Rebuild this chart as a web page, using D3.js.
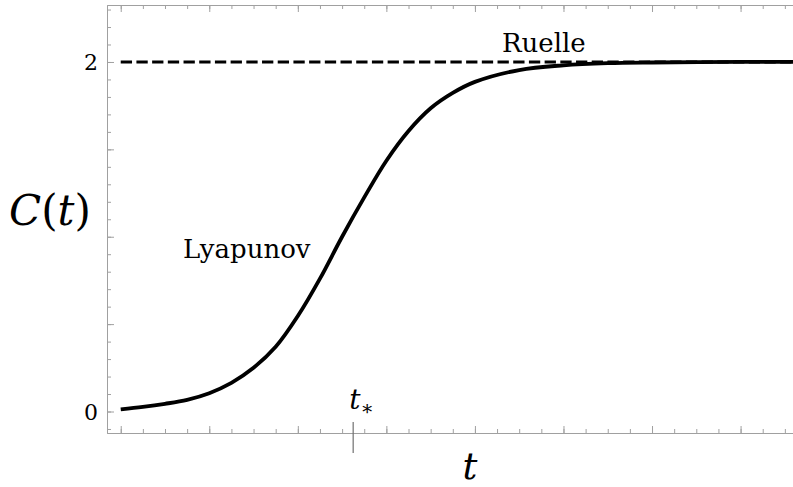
<!DOCTYPE html>
<html>
<head>
<meta charset="utf-8">
<script src="https://cdn.jsdelivr.net/npm/d3@7"></script>
<style>
  body { margin: 0; background: #fff; }
  svg { display: block; }
  .frame path, .frame line { stroke: #a0a0a0; stroke-width: 1; }
</style>
</head>
<body>
<div class="chart"></div>
<script>
// chart size
var svgWidth = 793;
var svgHeight = 487;
var serif = "DejaVu Serif";

// curve: t and C(t)
var tValues = [0, 0.25, 0.5, 0.75, 1.0, 1.25, 1.5, 1.75, 2.0, 2.25, 2.5, 2.75, 3.0, 3.25, 3.5, 3.75, 4.0, 4.5, 5.0, 5.5, 6.0, 7.0, 7.6];
var cValues = [0.012, 0.026, 0.044, 0.067, 0.105, 0.164, 0.25, 0.37, 0.546, 0.76, 1.0, 1.225, 1.435, 1.605, 1.735, 1.823, 1.886, 1.954, 1.981, 1.993, 1.997, 2.0, 2.0];

// Ruelle plateau and t_* marker
var ruelleLevel = 2;
var ruelleStart = 0;
var tStar = 2.625;

// ticks
var xMajorTicks = [0, 1, 2, 3, 4, 5, 6, 7];
var xMinorTicks = d3.range(0, 7.6, 0.25);
var yMajorTicks = [0, 0.5, 1, 1.5, 2];
var yMinorTicks = d3.range(-0.1, 2.35, 0.1);
var yTickLabels = [0, 2];

var svg = d3.select(".chart")
  .append("svg")
  .attr("width", svgWidth)
  .attr("height", svgHeight);

var xScale = d3.scaleLinear().domain([-0.155, 7.6]).range([107, 793.7]);
var yScale = d3.scaleLinear().domain([-0.123, 2.326]).range([433, 5]);

var x0 = xScale.range()[0], x1 = xScale.range()[1];
var yBottom = yScale.range()[0], yTop = yScale.range()[1];

// frame with inward ticks
function addAxis(axis, tx, ty) {
  var g = svg.append("g")
    .attr("class", "frame")
    .attr("transform", "translate(" + tx + "," + ty + ")")
    .call(axis);
  g.selectAll("text").remove();
  return g;
}

addAxis(d3.axisBottom(xScale).tickValues(xMinorTicks).tickSize(-4).tickSizeOuter(0), 0, yBottom);
addAxis(d3.axisBottom(xScale).tickValues(xMajorTicks).tickSize(-7).tickSizeOuter(0), 0, yBottom);
addAxis(d3.axisTop(xScale).tickValues(xMinorTicks).tickSize(-4).tickSizeOuter(0), 0, yTop);
addAxis(d3.axisTop(xScale).tickValues(xMajorTicks).tickSize(-7).tickSizeOuter(0), 0, yTop);
addAxis(d3.axisLeft(yScale).tickValues(yMinorTicks).tickSize(-4).tickSizeOuter(0), x0, 0);
addAxis(d3.axisLeft(yScale).tickValues(yMajorTicks).tickSize(-7).tickSizeOuter(0), x0, 0);

// y labels 0 and 2
svg.append("g")
  .attr("transform", "translate(" + x0 + ",0)")
  .call(d3.axisLeft(yScale).tickValues(yTickLabels).tickFormat(d3.format("d")).tickSize(0).tickPadding(9))
  .call(function(g) { g.select(".domain").remove(); })
  .selectAll("text")
  .attr("fill", "#000")
  .style("font-family", serif)
  .style("font-size", "22px")
  .attr("dy", "0.36em");

// t_* tick below the axis
svg.append("line")
  .attr("x1", xScale(tStar)).attr("x2", xScale(tStar))
  .attr("y1", yBottom - 11).attr("y2", yBottom + 20)
  .attr("stroke", "#707070")
  .attr("stroke-width", 1.2);

var tStarLabel = svg.append("text")
  .attr("x", xScale(tStar) - 4)
  .attr("y", yBottom - 24)
  .style("font-family", serif)
  .style("font-size", "28px");
tStarLabel.append("tspan").style("font-style", "italic").text("t");
tStarLabel.append("tspan").attr("dy", 6).style("font-size", "20px").text("∗");

// dashed Ruelle line
svg.append("line")
  .attr("x1", xScale(ruelleStart)).attr("x2", x1)
  .attr("y1", yScale(ruelleLevel)).attr("y2", yScale(ruelleLevel))
  .attr("stroke", "#000")
  .attr("stroke-width", 2.9)
  .attr("stroke-dasharray", "11.3,4.4");

// the curve
var line = d3.line()
  .x(function(d, i) { return xScale(tValues[i]); })
  .y(function(d) { return yScale(d); })
  .curve(d3.curveCatmullRom);

svg.append("path")
  .datum(cValues)
  .attr("d", line)
  .attr("fill", "none")
  .attr("stroke", "#000")
  .attr("stroke-width", 3.8);

// annotations
svg.append("text")
  .attr("x", 183).attr("y", 258)
  .style("font-family", serif)
  .style("font-size", "26px")
  .text("Lyapunov");

svg.append("text")
  .attr("x", 502).attr("y", 52)
  .style("font-family", serif)
  .style("font-size", "26px")
  .text("Ruelle");

// axis titles
var yTitle = svg.append("text")
  .attr("x", 9).attr("y", 225)
  .style("font-family", serif)
  .style("font-size", "42px");
yTitle.append("tspan").style("font-style", "italic").text("C");
yTitle.append("tspan").text("(");
yTitle.append("tspan").style("font-style", "italic").text("t");
yTitle.append("tspan").text(")");

svg.append("text")
  .attr("x", 470).attr("y", 479)
  .attr("text-anchor", "middle")
  .style("font-family", serif)
  .style("font-size", "37px")
  .style("font-style", "italic")
  .text("t");
</script>
</body>
</html>
